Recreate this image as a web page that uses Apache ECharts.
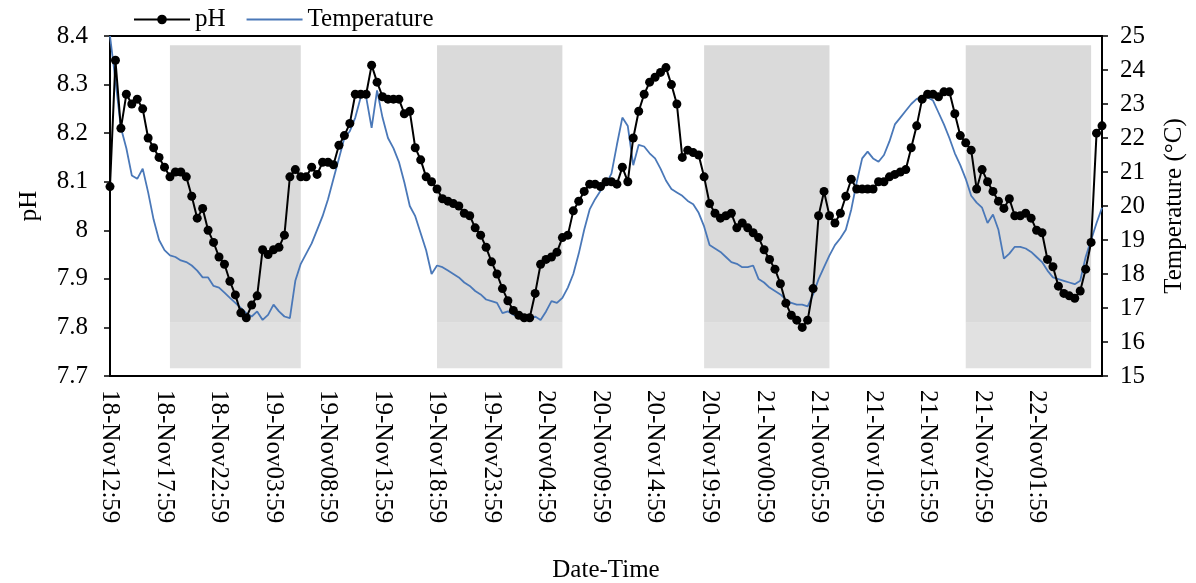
<!DOCTYPE html>
<html>
<head>
<meta charset="utf-8">
<title>pH and Temperature</title>
<script src="https://cdn.jsdelivr.net/npm/echarts@6/dist/echarts.min.js"></script>
<style>
  html, body { margin: 0; padding: 0; background: #fff; }
  #chart { width: 1196px; height: 583px; }
</style>
</head>
<body>
<div id="chart"></div>
<script>
// Half-hourly readings starting 18-Nov 12:59
const startDay = 18;
const startMinutes = 12 * 60 + 59;
const stepMinutes = 30;

const phValues = [
  8.09, 8.35, 8.21, 8.28, 8.26, 8.27, 8.25, 8.19, 8.17, 8.15,
  8.13, 8.11, 8.12, 8.12, 8.11, 8.07, 8.025, 8.045, 8.00, 7.975,
  7.945, 7.93, 7.895, 7.867, 7.83, 7.82, 7.846, 7.865, 7.96, 7.95,
  7.96, 7.965, 7.99, 8.11, 8.125, 8.11, 8.11, 8.13, 8.115, 8.14,
  8.14, 8.135, 8.175, 8.195, 8.22, 8.28, 8.28, 8.28, 8.34, 8.305,
  8.275, 8.27, 8.27, 8.27, 8.24, 8.245, 8.17, 8.145, 8.11, 8.10,
  8.085, 8.065, 8.06, 8.055, 8.05, 8.035, 8.03, 8.005, 7.99, 7.965,
  7.935, 7.91, 7.88, 7.855, 7.835, 7.825, 7.82, 7.82, 7.87, 7.93,
  7.94, 7.945, 7.955, 7.985, 7.99, 8.04, 8.06, 8.08, 8.095, 8.095,
  8.09, 8.10, 8.10, 8.095, 8.13, 8.10, 8.19, 8.245, 8.28, 8.305,
  8.315, 8.325, 8.335, 8.30, 8.26, 8.15, 8.165, 8.16, 8.155, 8.11,
  8.055, 8.035, 8.025, 8.03, 8.035, 8.005, 8.015, 8.005, 7.995, 7.985,
  7.96, 7.94, 7.92, 7.89, 7.85, 7.825, 7.815, 7.80, 7.815, 7.88,
  8.03, 8.08, 8.03, 8.015, 8.035, 8.07, 8.105, 8.085, 8.085, 8.085,
  8.085, 8.10, 8.10, 8.11, 8.115, 8.12, 8.125, 8.17, 8.215, 8.27,
  8.28, 8.28, 8.275, 8.285, 8.285, 8.24, 8.195, 8.18, 8.165, 8.085,
  8.125, 8.10, 8.08, 8.06, 8.045, 8.065, 8.03, 8.03, 8.035, 8.025,
  8.00, 7.995, 7.94, 7.925, 7.885, 7.87, 7.865, 7.86, 7.875, 7.92,
  7.975, 8.20, 8.215
];

const temperatureValues = [
  25.0, 23.7, 22.3, 21.7, 20.9, 20.8, 21.1, 20.4, 19.6, 19.0,
  18.7, 18.55, 18.5, 18.4, 18.35, 18.25, 18.1, 17.9, 17.9, 17.65,
  17.6, 17.45, 17.3, 17.15, 17.0, 16.85, 16.75, 16.9, 16.65, 16.8,
  17.1, 16.9, 16.75, 16.7, 17.8, 18.3, 18.6, 18.9, 19.3, 19.7,
  20.2, 20.8, 21.4, 22.0, 22.2, 22.6, 23.2, 23.2, 22.3, 23.4,
  22.6, 22.0, 21.7, 21.3, 20.7, 20.0, 19.7, 19.2, 18.7, 18.0,
  18.25, 18.2, 18.1, 18.0, 17.9, 17.75, 17.65, 17.5, 17.4, 17.25,
  17.2, 17.15, 16.85, 16.9, 16.8, 16.75, 16.7, 16.65, 16.75, 16.65,
  16.9, 17.2, 17.15, 17.3, 17.6, 18.0, 18.6, 19.3, 19.9, 20.2,
  20.45, 20.65, 20.95, 21.8, 22.6, 22.35, 21.2, 21.8, 21.75, 21.55,
  21.4, 21.1, 20.75, 20.5, 20.4, 20.3, 20.15, 20.05, 19.8, 19.4,
  18.85, 18.75, 18.65, 18.5, 18.35, 18.3, 18.2, 18.2, 18.25, 17.85,
  17.75, 17.6, 17.5, 17.4, 17.25, 17.15, 17.1, 17.1, 17.05, 17.4,
  17.85, 18.2, 18.55, 18.85, 19.05, 19.3, 19.9, 20.7, 21.4, 21.6,
  21.4, 21.3, 21.5, 21.9, 22.4, 22.6, 22.8, 23.0, 23.15, 23.2,
  23.2, 23.1, 22.75, 22.4, 22.0, 21.55, 21.2, 20.8, 20.3, 20.1,
  19.95, 19.5, 19.75, 19.3, 18.45, 18.6, 18.8, 18.8, 18.75, 18.65,
  18.5, 18.35, 18.1, 17.9, 17.85, 17.8, 17.75, 17.7, 17.8, 18.5,
  19.0, 19.5, 19.95
];

// Night periods as [first reading index, last reading index]
const nightPeriods = [[11, 35], [60, 83], [109, 132], [157, 180]];

// Every 10th reading gets a tick label, up to this index
const labelEvery = 10;
const lastLabelIndex = 170;

function pad(n) { return (n < 10 ? '0' : '') + n; }
const categories = phValues.map(function (_, i) {
  const total = startMinutes + i * stepMinutes;
  const day = startDay + Math.floor(total / 1440);
  const m = total % 1440;
  return day + '-Nov' + pad(Math.floor(m / 60)) + ':' + pad(m % 60);
});

const serif = 'Liberation Serif';
const txt = { fontFamily: serif, fontSize: 25, color: '#000' };

// Shaded night bands: grey upper block and a slightly lighter strip near the bottom
const bandData = [];
nightPeriods.forEach(function (p) {
  bandData.push([
    { xAxis: p[0], yAxis: 8.381, itemStyle: { color: 'rgba(188,188,188,0.55)' } },
    { xAxis: p[1], yAxis: 7.81 }
  ]);
  bandData.push([
    { xAxis: p[0], yAxis: 7.81, itemStyle: { color: 'rgba(195,195,195,0.5)' } },
    { xAxis: p[1], yAxis: 7.716 }
  ]);
});

const chart = echarts.init(document.getElementById('chart'), null, { renderer: 'canvas' });
chart.setOption({
  animation: false,
  backgroundColor: '#fff',
  legend: {
    data: [
      { name: 'pH' },
      { name: 'Temperature', itemStyle: { color: 'rgba(0,0,0,0)', borderWidth: 0 } }
    ],
    left: 128,
    top: 2,
    itemWidth: 56,
    itemHeight: 12,
    itemGap: 20,
    textStyle: txt
  },
  grid: {
    left: 110,
    right: 94,
    top: 36,
    bottom: 207,
    show: true,
    borderColor: '#000',
    borderWidth: 2,
    outerBoundsMode: 'none'
  },
  xAxis: {
    type: 'category',
    boundaryGap: false,
    data: categories,
    name: 'Date-Time',
    nameLocation: 'middle',
    nameGap: 182,
    nameTextStyle: txt,
    axisLine: { lineStyle: { color: '#000', width: 2 } },
    axisTick: { show: false },
    axisLabel: Object.assign({
      rotate: -90,
      margin: 14,
      interval: function (i) { return i % labelEvery === 0 && i <= lastLabelIndex; }
    }, txt),
    splitLine: { show: false }
  },
  yAxis: [
    {
      type: 'value',
      min: 7.7,
      max: 8.4,
      interval: 0.1,
      name: 'pH',
      nameLocation: 'middle',
      nameGap: 68,
      nameRotate: 90,
      nameTextStyle: txt,
      axisLine: { show: true, lineStyle: { color: '#000', width: 2 } },
      axisTick: { show: true, length: 6, lineStyle: { color: '#000', width: 1.5 } },
      axisLabel: Object.assign({ margin: 22 }, txt),
      splitLine: { show: false }
    },
    {
      type: 'value',
      min: 15,
      max: 25,
      interval: 1,
      position: 'right',
      name: 'Temperature (°C)',
      nameLocation: 'middle',
      nameGap: 60,
      nameRotate: 90,
      nameTextStyle: txt,
      axisLine: { show: true, lineStyle: { color: '#000', width: 2 } },
      axisTick: { show: true, length: 6, lineStyle: { color: '#000', width: 1.5 } },
      axisLabel: Object.assign({ margin: 18 }, txt),
      splitLine: { show: false }
    }
  ],
  series: [
    {
      name: 'Temperature',
      type: 'line',
      yAxisIndex: 1,
      data: temperatureValues,
      showSymbol: false,
      symbol: 'none',
      z: 2,
      lineStyle: { color: '#4a78b8', width: 1.8 },
      itemStyle: { color: '#4a78b8' }
    },
    {
      name: 'night',
      type: 'line',
      yAxisIndex: 0,
      data: [],
      z: 3,
      silent: true,
      markArea: { silent: true, data: bandData }
    },
    {
      name: 'pH',
      type: 'line',
      yAxisIndex: 0,
      data: phValues,
      symbol: 'circle',
      symbolSize: 9,
      showAllSymbol: true,
      z: 4,
      lineStyle: { color: '#000', width: 2 },
      itemStyle: { color: '#000' }
    }
  ]
});
</script>
</body>
</html>
